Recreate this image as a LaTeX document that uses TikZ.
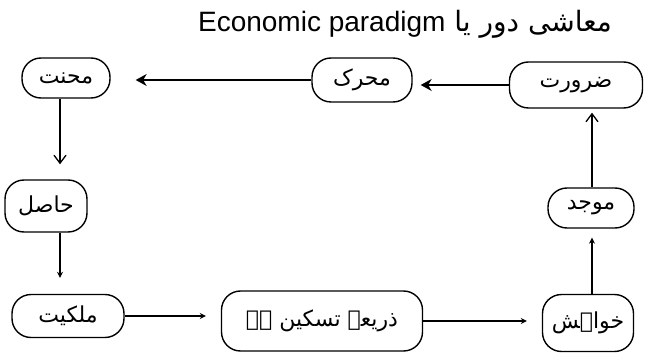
\documentclass[tikz,border=0pt]{standalone}
\usepackage{fontspec}
\setmainfont{Liberation Sans}
\newfontfamily\urdu[Script=Arabic]{DejaVu Sans}
\TeXXeTstate=1
\usetikzlibrary{arrows.meta}
\begin{document}
\begin{tikzpicture}[x=1pt,y=-1pt,
  box/.style={draw, line width=1.4pt, rounded corners=19pt, inner sep=0pt,
    font=\urdu\fontsize{22}{26}\selectfont},
  conn/.style={line width=1.3pt},
  bigtip/.style={-{Stealth[length=11pt,width=12pt]}},
  veetip/.style={-{Straight Barb[length=8pt,width=12pt,line width=1.3pt]}},
  smalltip/.style={-{Stealth[length=6pt,width=6pt]}}]
\useasboundingbox (0,0) rectangle (650,358);
\node[font=\fontsize{28}{32}\selectfont, inner sep=0pt] (title) at (405,24)
  {\urdu\beginR معاشی دور یا \beginL{\rmfamily Economic paradigm}\endL\endR};
\node[box, minimum width=88pt, minimum height=40pt] (mehnat) at (66,78) {\beginR محنت\endR};
\node[box, minimum width=100pt, minimum height=44pt] (muharrik) at (362,80) {\beginR محرک\endR};
\node[box, minimum width=133pt, minimum height=46pt] (zaroorat) at (576,85) {\beginR ضرورت\endR};
\node[box, minimum width=82pt, minimum height=52pt] (hasil) at (46,206) {\beginR حاصل\endR};
\node[box, minimum width=112pt, minimum height=43pt] (milkiyat) at (68,316) {\beginR ملکیت\endR};
\node[box, minimum width=201pt, minimum height=60pt] (zariya) at (322,321) {\beginR ذریعہ تسکین ہے\endR};
\node[box, minimum width=91pt, minimum height=57pt] (khwahish) at (588,323) {\beginR خواہش\endR};
\node[box, minimum width=86pt, minimum height=40pt] (mojid) at (591,208) {\beginR موجد\endR};
% top row
\draw[conn, bigtip, shorten >=8pt] (zaroorat.west) -- (zaroorat.west -| muharrik.east);
\draw[conn, bigtip, shorten >=25pt] (muharrik.west) -- (muharrik.west -| mehnat.east);
% left column
\draw[conn, veetip, shorten >=15pt] ([xshift=-6pt]mehnat.south) -- ([xshift=-6pt]mehnat.south |- hasil.north);
\draw[conn, smalltip, shorten >=16pt] ([xshift=14pt]hasil.south) -- ([xshift=14pt]hasil.south |- milkiyat.north);
% bottom row
\draw[conn, smalltip, shorten >=15pt] (milkiyat.east) -- (milkiyat.east -| zariya.west);
\draw[conn, smalltip, shorten >=15pt] (zariya.east) -- (zariya.east -| khwahish.west);
% right column
\draw[conn, smalltip, shorten >=9pt] ([xshift=4pt]khwahish.north) -- ([xshift=4pt]khwahish.north |- mojid.south);
\draw[conn, veetip, shorten >=4pt] ([xshift=1pt]mojid.north) -- ([xshift=1pt]mojid.north |- zaroorat.south);
\end{tikzpicture}
\end{document}
